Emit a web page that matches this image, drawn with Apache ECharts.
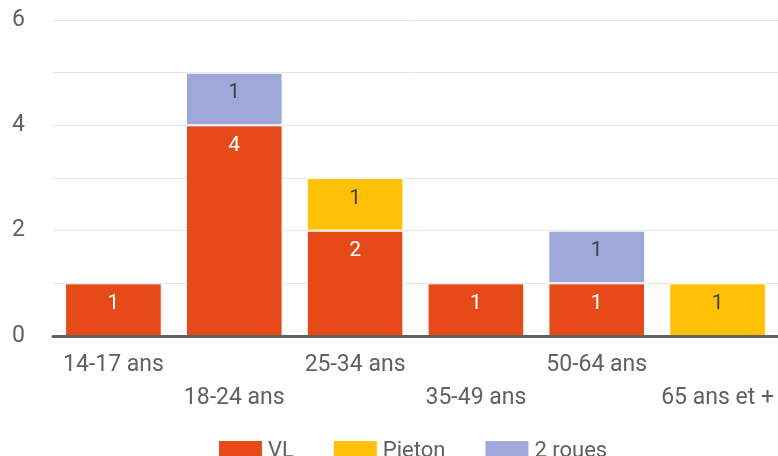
<!DOCTYPE html>
<html><head><meta charset="utf-8">
<script src="https://cdn.jsdelivr.net/npm/echarts@6/dist/echarts.min.js"></script>
<style>html,body{margin:0;padding:0;background:#fff}#c{width:778px;height:456px}</style>
</head><body><div id="c"></div>
<script>
const categories = ['14-17 ans','18-24 ans','25-34 ans','35-49 ans','50-64 ans','65 ans et +'];
const vl = [1,4,2,1,1,null];
const pieton = [null,null,1,null,null,1];
const deuxRoues = [null,1,null,null,1,null];
const yTicks = [0,2,4,6];

const chart = echarts.init(document.getElementById('c'));
const font = 'Roboto, sans-serif';
function mk(name, data, color, labelColor){
  return {name, type:'bar', stack:'s', data, barWidth:'80%',
    itemStyle:{color, borderColor:'#fff', borderWidth:1},
    label:{show:true, position:'insideTop', distance:10, color:labelColor, fontSize:21, fontFamily:font},
    emphasis:{disabled:true}};
}
chart.setOption({
  animation:false,
  textStyle:{fontFamily:font},
  grid:{left:53, right:-2, top:20, bottom:120},
  legend:{top:434, left:212, itemWidth:45, itemHeight:22, itemGap:38, icon:'rect',
    textStyle:{fontSize:22, color:'#616161', fontFamily:font}},
  xAxis:{type:'category', data:categories, z:10,
    axisLine:{lineStyle:{color:'#616161', width:3}},
    axisTick:{show:false},
    axisLabel:{interval:0, fontSize:23, color:'#616161', fontFamily:font, margin:13, lineHeight:33,
      formatter:(v,i)=> i%2 ? '\n'+v : v}},
  yAxis:{type:'value', min:0, max:6, interval:1,
    axisLine:{show:false}, axisTick:{show:false},
    splitLine:{lineStyle:{color:'#e4e4e4', width:1}},
    axisLabel:{fontSize:23, color:'#616161', fontFamily:font, margin:28, padding:[3,0,0,0],
      formatter:v=> yTicks.includes(v) ? String(v) : ''}},
  series:[
    mk('VL', vl, '#E64A19', '#ffffff'),
    mk('Pieton', pieton, '#FFC107', '#424242'),
    mk('2 roues', deuxRoues, '#9FA8DA', '#424242')
  ]
});
</script></body></html>
